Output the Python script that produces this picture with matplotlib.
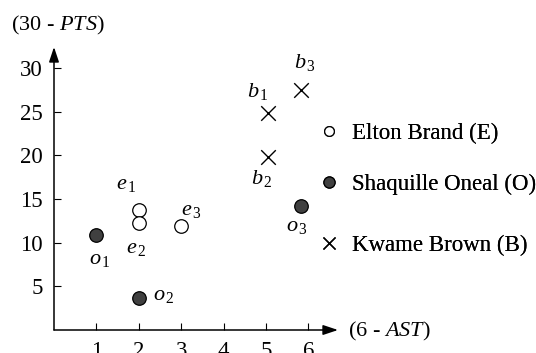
import matplotlib.pyplot as plt
from matplotlib.lines import Line2D

plt.rcParams['font.family'] = ['Liberation Serif', 'DejaVu Serif']
plt.rcParams['mathtext.fontset'] = 'custom'
plt.rcParams['mathtext.rm'] = 'Liberation Serif'
plt.rcParams['mathtext.it'] = 'Liberation Serif:italic'

# (6 - AST), (30 - PTS) for each season
elton_x = [2, 2, 3]
elton_y = [13.7, 12.2, 11.9]
oneal_x = [1, 2, 5.83]
oneal_y = [10.9, 3.7, 14.2]
brown_x = [5.05, 5.05, 5.83]
brown_y = [24.8, 19.8, 27.5]

elton_labels = ["$e_{\\,1}$", "$e_{\\,2}$", "$e_{\\,3}$"]
oneal_labels = ["$o_{\\,1}$", "$o_{\\,2}$", "$o_{\\,3}$"]
brown_labels = ["$b_{\\,1}$", "$b_{\\,2}$", "$b_{\\,3}$"]

elton_off = [(-12, 26), (-2, -25), (10, 16)]
oneal_off = [(4, -25), (25, 2), (-4, -21)]
brown_off = [(-10, 22), (-6, -21), (4, 27)]

xticks = [1, 2, 3, 4, 5, 6]
yticks = [5, 10, 15, 20, 25, 30]

W, H = 536, 353
fig = plt.figure(figsize=(W / 100, H / 100), dpi=100)
ax = fig.add_axes([54 / W, (H - 330) / H, (338 - 54) / W, (330 - 47) / H])
ax.set_xlim(0, 6.7)
ax.set_ylim(0, 32.4)

for s in ax.spines.values():
    s.set_visible(False)
ax.annotate("", xy=(1, 0), xytext=(0, 0), xycoords="axes fraction",
            arrowprops=dict(arrowstyle="-|>,head_length=0.9,head_width=0.3",
                            color="black", lw=1.1, shrinkA=0, shrinkB=0))
ax.annotate("", xy=(0, 1), xytext=(0, 0), xycoords="axes fraction",
            arrowprops=dict(arrowstyle="-|>,head_length=0.9,head_width=0.3",
                            color="black", lw=1.1, shrinkA=0, shrinkB=0))

ax.set_xticks(xticks)
ax.set_yticks(yticks)
ax.tick_params(direction="in", length=5, width=0.8, labelsize=16.5, colors="black")
ax.tick_params(axis="x", pad=8)
ax.tick_params(axis="y", pad=8)

e = ax.scatter(elton_x, elton_y, s=95, facecolor="white", edgecolor="black",
               linewidth=0.9, clip_on=False, zorder=3)
o = ax.scatter(oneal_x, oneal_y, s=95, facecolor="#404040", edgecolor="black",
               linewidth=0.9, clip_on=False, zorder=3)
b = ax.scatter(brown_x, brown_y, s=110, marker="x", color="black",
               linewidth=1.0, clip_on=False, zorder=3)

for xs, ys, labs, offs in [(elton_x, elton_y, elton_labels, elton_off),
                           (oneal_x, oneal_y, oneal_labels, oneal_off),
                           (brown_x, brown_y, brown_labels, brown_off)]:
    for x, y, lab, off in zip(xs, ys, labs, offs):
        ax.annotate(lab, (x, y), xytext=off, textcoords="offset pixels",
                    ha="center", va="center", fontsize=16)

fig.text(58 / W, 1 - 25 / H, "(30 - $\\mathit{PTS}$)", ha="center", va="center", fontsize=16)
fig.text(348 / W, 1 - 331 / H, "(6 - $\\mathit{AST}$)", ha="left", va="center", fontsize=16)

handles = [
    (Line2D([], [], ls="none", marker="o", ms=7, mfc="white", mec="black", mew=0.9), "Elton Brand (E)", 133),
    (Line2D([], [], ls="none", marker="o", ms=8, mfc="#404040", mec="black", mew=0.9), "Shaquille Oneal (O)", 184),
    (Line2D([], [], ls="none", marker="x", ms=9, color="black", mew=1.0), "Kwame Brown (B)", 245),
]
for h, lab, ypix in handles:
    leg = fig.legend([h], [lab], loc="center left", bbox_to_anchor=(318 / W, 1 - ypix / H),
                     frameon=False, fontsize=16.5, handlelength=1.0, handletextpad=0.5,
                     borderpad=0, borderaxespad=0)
    fig.add_artist(leg)

fig.savefig("out.png", dpi=100)
